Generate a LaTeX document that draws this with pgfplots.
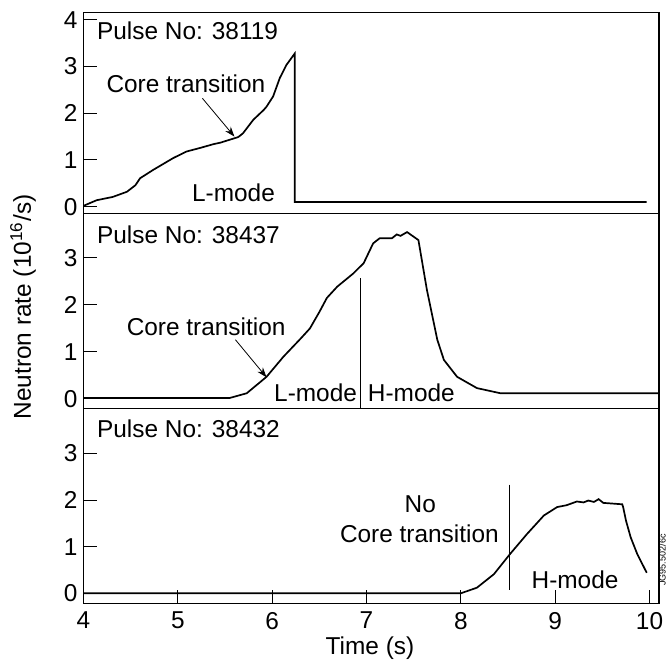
\documentclass[border=0pt]{standalone}
\usepackage{fontspec}
\setmainfont{Liberation Sans}
\usepackage{pgfplots}
\pgfplotsset{compat=1.18}
\usetikzlibrary{arrows.meta}

\newcommand{\lbl}{\fontsize{12.2}{14}\selectfont}

\pgfplotsset{
  panel/.style={
    scale only axis, width=287.75pt, xmin=4, xmax=10.1,
    axis line style={line width=0.6pt},
    ytick pos=left, xtick pos=bottom,
    xtick align=inside, ytick align=inside,
    major tick length=6.5pt,
    tick style={line width=0.5pt, black},
    ticklabel style={font=\lbl},
    yticklabel style={inner sep=0pt, anchor=east, xshift=-2.8pt},
    xticklabel style={inner sep=0pt, anchor=north, yshift=-4.2pt},
    /pgf/number format/assume math mode=true,
  },
  trace/.style={black, line width=0.85pt, no marks},
  vline/.style={black, line width=0.45pt, no marks},
}

\begin{document}
\begin{tikzpicture}
\useasboundingbox (0,0) rectangle (333.5pt,-334pt);

% ---------- Panel 1 ----------
\begin{axis}[panel, at={(41.75pt,-6.35pt)}, anchor=north west,
  height=100.3pt, ymin=-0.14, ymax=4.15, ytick={0,1,2,3,4}, xtick=\empty]
\addplot[trace] coordinates {
(4.00,0.02) (4.14,0.14) (4.31,0.21) (4.46,0.32) (4.55,0.46) (4.60,0.61)
(4.74,0.79) (4.95,1.04) (5.09,1.18) (5.24,1.26) (5.38,1.34) (5.45,1.37)
(5.64,1.49) (5.69,1.57) (5.80,1.86) (5.91,2.07) (5.94,2.14) (6.01,2.36)
(6.08,2.75) (6.15,3.03) (6.24,3.28) (6.24,0.10) (9.97,0.10)};
\node[font=\lbl, anchor=west, inner sep=0pt] at (axis cs:4.14,3.76) {Pulse No: 38119};
\node[font=\lbl, inner sep=0pt] at (axis cs:5.085,2.63) {Core transition};
\draw[-{Stealth[length=5pt,width=3.5pt]}, line width=0.4pt] (axis cs:5.26,2.32) -- (axis cs:5.60,1.50);
\node[font=\lbl, inner sep=0pt] at (axis cs:5.59,0.30) {L-mode};
\end{axis}

% ---------- Panel 2 ----------
\begin{axis}[panel, at={(41.75pt,-106.65pt)}, anchor=north west,
  height=97.5pt, ymin=-0.2, ymax=3.95, ytick={0,1,2,3}, xtick=\empty]
\addplot[trace] coordinates {
(4.00,0.02) (5.55,0.02) (5.73,0.12) (5.94,0.47) (6.12,0.90) (6.30,1.28)
(6.40,1.50) (6.50,1.85) (6.58,2.15) (6.69,2.39) (6.86,2.67) (6.97,2.89)
(7.07,3.31) (7.14,3.42) (7.27,3.42) (7.32,3.50) (7.36,3.47) (7.43,3.55)
(7.55,3.38) (7.64,2.32) (7.75,1.26) (7.82,0.83) (7.96,0.47) (8.17,0.23)
(8.42,0.12) (10.1,0.12)};
\addplot[vline] coordinates {(6.94,2.57) (6.94,-0.2)};
\node[font=\lbl, anchor=west, inner sep=0pt] at (axis cs:4.14,3.50) {Pulse No: 38437};
\node[font=\lbl, inner sep=0pt] at (axis cs:5.30,1.54) {Core transition};
\draw[-{Stealth[length=5pt,width=3.5pt]}, line width=0.4pt] (axis cs:5.61,1.26) -- (axis cs:5.94,0.46);
\node[font=\lbl, inner sep=0pt] at (axis cs:6.46,0.12) {L-mode};
\node[font=\lbl, inner sep=0pt] at (axis cs:7.475,0.12) {H-mode};
\end{axis}

% ---------- Panel 3 ----------
\begin{axis}[panel, at={(41.75pt,-204.15pt)}, anchor=north west,
  height=97.5pt, ymin=-0.215, ymax=3.97, ytick={0,1,2,3}, xtick={4,5,6,7,8,9,10}]
\addplot[trace] coordinates {
(4.00,0.00) (8.00,0.00) (8.17,0.12) (8.35,0.41) (8.52,0.84) (8.70,1.27)
(8.88,1.67) (9.02,1.85) (9.12,1.89) (9.23,1.97) (9.30,1.95) (9.35,1.99)
(9.41,1.96) (9.46,2.02) (9.51,1.94) (9.71,1.91) (9.72,1.85) (9.75,1.56)
(9.80,1.20) (9.87,0.84) (9.97,0.44)};
\addplot[vline] coordinates {(8.52,2.33) (8.52,0.06)};
\node[font=\lbl, anchor=west, inner sep=0pt] at (axis cs:4.14,3.53) {Pulse No: 38432};
\node[font=\lbl, inner sep=0pt] at (axis cs:7.57,1.92) {No};
\node[font=\lbl, inner sep=0pt] at (axis cs:7.56,1.27) {Core transition};
\node[font=\lbl, inner sep=0pt] at (axis cs:9.21,0.29) {H-mode};
\end{axis}

% ---------- axis titles ----------
\node[font=\lbl, rotate=90, inner sep=0pt] at (11.5pt,-153.5pt) {Neutron rate (10\textsuperscript{16}/s)};
\node[font=\lbl, inner sep=0pt] at (185pt,-324pt) {Time (s)};
\node[font=\fontsize{4.5}{5}\selectfont, rotate=90, anchor=north, inner sep=0pt] at (329.4pt,-280pt) {JG95.502/6c};
\end{tikzpicture}
\end{document}
